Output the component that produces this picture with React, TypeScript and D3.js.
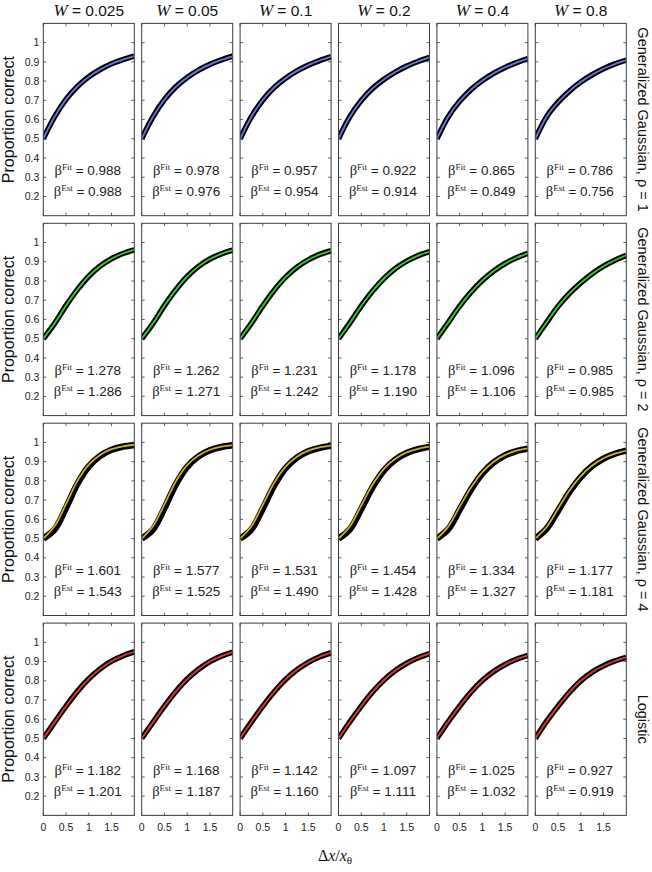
import React, { useEffect, useRef } from 'react';
import * as d3 from 'd3';

// column / row labels
const widths = ['0.025', '0.05', '0.1', '0.2', '0.4', '0.8'];
const models = [
  'Generalized Gaussian, ρ = 1',
  'Generalized Gaussian, ρ = 2',
  'Generalized Gaussian, ρ = 4',
  'Logistic'
];
const modelColors = ['#6878e0', '#33cc33', '#c8b02a', '#d83a3a'];

const xTicks = [0, 0.5, 1, 1.5];
const yTicks = [0.2, 0.3, 0.4, 0.5, 0.6, 0.7, 0.8, 0.9, 1];

const xSamples = [0, 0.25, 0.5, 0.75, 1, 1.25, 1.5, 1.75, 2];

const betaFit = [
  [0.988, 0.978, 0.957, 0.922, 0.865, 0.786],
  [1.278, 1.262, 1.231, 1.178, 1.096, 0.985],
  [1.601, 1.577, 1.531, 1.454, 1.334, 1.177],
  [1.182, 1.168, 1.142, 1.097, 1.025, 0.927]
];
const betaEst = [
  [0.988, 0.976, 0.954, 0.914, 0.849, 0.756],
  [1.286, 1.271, 1.242, 1.190, 1.106, 0.985],
  [1.543, 1.525, 1.490, 1.428, 1.327, 1.181],
  [1.201, 1.187, 1.160, 1.111, 1.032, 0.919]
];

// fitted curves (coloured), one per W
const fitGauss1 = [
  [0.5, 0.615, 0.705, 0.772, 0.822, 0.86, 0.89, 0.912, 0.93],
  [0.5, 0.615, 0.704, 0.77, 0.819, 0.857, 0.887, 0.91, 0.929],
  [0.5, 0.615, 0.702, 0.767, 0.815, 0.853, 0.883, 0.907, 0.927],
  [0.5, 0.615, 0.699, 0.762, 0.809, 0.847, 0.878, 0.902, 0.923],
  [0.5, 0.615, 0.695, 0.756, 0.803, 0.841, 0.871, 0.896, 0.917],
  [0.5, 0.615, 0.69, 0.748, 0.795, 0.833, 0.864, 0.889, 0.909]
];
const fitGauss2 = [
  [0.5, 0.58, 0.672, 0.755, 0.825, 0.878, 0.916, 0.943, 0.962],
  [0.5, 0.58, 0.672, 0.754, 0.823, 0.876, 0.914, 0.941, 0.96],
  [0.5, 0.581, 0.671, 0.752, 0.82, 0.872, 0.91, 0.938, 0.957],
  [0.5, 0.582, 0.67, 0.748, 0.813, 0.865, 0.903, 0.932, 0.952],
  [0.5, 0.584, 0.669, 0.742, 0.803, 0.852, 0.891, 0.921, 0.944],
  [0.5, 0.585, 0.668, 0.735, 0.79, 0.838, 0.877, 0.908, 0.934]
];
const fitGauss4 = [
  [0.5, 0.565, 0.68, 0.8, 0.885, 0.935, 0.965, 0.98, 0.988],
  [0.5, 0.565, 0.678, 0.797, 0.882, 0.932, 0.962, 0.978, 0.986],
  [0.5, 0.564, 0.676, 0.79, 0.874, 0.926, 0.957, 0.974, 0.983],
  [0.5, 0.563, 0.672, 0.781, 0.863, 0.915, 0.948, 0.967, 0.978],
  [0.5, 0.562, 0.665, 0.766, 0.846, 0.9, 0.935, 0.957, 0.969],
  [0.5, 0.56, 0.655, 0.75, 0.825, 0.88, 0.918, 0.942, 0.958]
];
const fitLogistic = [
  [0.5, 0.585, 0.668, 0.745, 0.81, 0.862, 0.902, 0.93, 0.951],
  [0.5, 0.585, 0.668, 0.744, 0.809, 0.86, 0.9, 0.928, 0.949],
  [0.5, 0.586, 0.668, 0.743, 0.807, 0.857, 0.896, 0.925, 0.946],
  [0.5, 0.587, 0.668, 0.742, 0.804, 0.853, 0.891, 0.92, 0.941],
  [0.5, 0.588, 0.668, 0.741, 0.802, 0.849, 0.885, 0.912, 0.932],
  [0.5, 0.59, 0.668, 0.74, 0.8, 0.845, 0.878, 0.903, 0.922]
];
// black band for rho = 4 sits a little under the fit at small x
const estGauss4 = [
  [0.5, 0.548, 0.66, 0.785, 0.876, 0.93, 0.962, 0.978, 0.987],
  [0.5, 0.548, 0.658, 0.782, 0.873, 0.927, 0.959, 0.976, 0.985],
  [0.5, 0.548, 0.657, 0.776, 0.866, 0.921, 0.954, 0.972, 0.982],
  [0.5, 0.548, 0.654, 0.768, 0.855, 0.911, 0.945, 0.965, 0.977],
  [0.5, 0.549, 0.65, 0.755, 0.839, 0.896, 0.933, 0.955, 0.968],
  [0.5, 0.552, 0.645, 0.742, 0.82, 0.877, 0.916, 0.941, 0.957]
];

const fitCurves = [fitGauss1, fitGauss2, fitGauss4, fitLogistic];
const estCurves = [fitGauss1, fitGauss2, estGauss4, fitLogistic];

const sans = '"Liberation Sans", Arial, Helvetica, sans-serif';
const serif = '"Liberation Serif", "Times New Roman", serif';

const App = () => {
  const svgRef = useRef<SVGSVGElement>(null);

  useEffect(() => {
    const w = 652;
    const h = 872;
    const left0 = 43.3;
    const colStep = 98.4;
    const panelW = 91;
    const top0 = 23.4;
    const rowStep = 199.9;
    const panelH = 192.3;
    const tickLen = 3;
    const axisColor = '#3c3c3c';

    const svg = d3.select(svgRef.current)
      .attr('width', w)
      .attr('height', h);
    svg.selectAll('*').remove();

    const x = d3.scaleLinear().domain([0, 2]).range([0, panelW]);
    const y = d3.scaleLinear().domain([0.1, 1.1]).range([panelH, 0]);

    const line = d3.line<number>()
      .x((d, i) => x(xSamples[i]))
      .y((d) => y(d))
      .curve(d3.curveCatmullRom.alpha(0.5));

    svg.append('defs')
      .append('clipPath')
      .attr('id', 'panel-clip')
      .append('rect')
      .attr('width', panelW)
      .attr('height', panelH);

    models.forEach((model, r) => {
      const top = top0 + r * rowStep;

      widths.forEach((wv, c) => {
        const left = left0 + c * colStep;
        const g = svg.append('g').attr('transform', `translate(${left},${top})`);

        g.append('rect')
          .attr('width', panelW)
          .attr('height', panelH)
          .attr('fill', '#fff');

        //curves: thick black band with the coloured fit on top
        const curves = g.append('g').attr('clip-path', 'url(#panel-clip)');
        curves.append('path')
          .attr('d', line(estCurves[r][c]))
          .attr('fill', 'none')
          .attr('stroke', '#000')
          .attr('stroke-width', r === 2 ? 6.5 : 5.6);
        curves.append('path')
          .attr('d', line(fitCurves[r][c]))
          .attr('fill', 'none')
          .attr('stroke', modelColors[r])
          .attr('stroke-width', 1.8);

        //ticks on all four sides, pointing in
        yTicks.forEach((t) => {
          g.append('line').attr('x1', 0).attr('x2', tickLen)
            .attr('y1', y(t)).attr('y2', y(t))
            .attr('stroke', axisColor).attr('stroke-width', 0.8);
          g.append('line').attr('x1', panelW).attr('x2', panelW - tickLen)
            .attr('y1', y(t)).attr('y2', y(t))
            .attr('stroke', axisColor).attr('stroke-width', 0.8);
        });
        xTicks.forEach((t) => {
          g.append('line').attr('x1', x(t)).attr('x2', x(t))
            .attr('y1', panelH).attr('y2', panelH - tickLen)
            .attr('stroke', axisColor).attr('stroke-width', 0.8);
          g.append('line').attr('x1', x(t)).attr('x2', x(t))
            .attr('y1', 0).attr('y2', tickLen)
            .attr('stroke', axisColor).attr('stroke-width', 0.8);
        });

        g.append('rect')
          .attr('width', panelW)
          .attr('height', panelH)
          .attr('fill', 'none')
          .attr('stroke', axisColor)
          .attr('stroke-width', 1);

        //beta annotations
        [['Fit', betaFit[r][c], 152], ['Est', betaEst[r][c], 173]].forEach(([lab, val, ty]) => {
          const t = g.append('text')
            .attr('x', panelW / 2 - 1)
            .attr('y', ty as number)
            .attr('text-anchor', 'middle')
            .attr('fill', '#222');
          t.append('tspan').attr('font-family', serif).attr('font-size', 14.5).text('β');
          t.append('tspan').attr('font-family', serif).attr('font-size', 9)
            .attr('dy', -5.5).text(lab as string);
          t.append('tspan').attr('font-family', sans).attr('font-size', 13.5)
            .attr('dy', 5.5).text(` = ${(val as number).toFixed(3)}`);
        });

        if (c === 0) {
          yTicks.forEach((t) => {
            g.append('text')
              .attr('x', -4)
              .attr('y', y(t))
              .attr('dy', '0.35em')
              .attr('text-anchor', 'end')
              .attr('font-family', sans)
              .attr('font-size', 10.5)
              .attr('fill', '#222')
              .text(d3.format('~g')(t));
          });
        }
        if (r === models.length - 1) {
          xTicks.forEach((t) => {
            g.append('text')
              .attr('x', x(t))
              .attr('y', panelH + 16)
              .attr('text-anchor', 'middle')
              .attr('font-family', sans)
              .attr('font-size', 10.5)
              .attr('fill', '#222')
              .text(d3.format('~g')(t));
          });
        }
        if (r === 0) {
          const title = svg.append('text')
            .attr('x', left + panelW / 2)
            .attr('y', 16)
            .attr('text-anchor', 'middle')
            .attr('fill', '#111');
          title.append('tspan').attr('font-family', serif).attr('font-style', 'italic')
            .attr('font-size', 17).text('W');
          title.append('tspan').attr('font-family', sans).attr('font-size', 15.5)
            .text(` = ${wv}`);
        }
      });

      //row label on the left and model name on the right
      svg.append('text')
        .attr('transform', `translate(14,${top + panelH / 2}) rotate(-90)`)
        .attr('text-anchor', 'middle')
        .attr('font-family', sans)
        .attr('font-size', 16)
        .attr('fill', '#111')
        .text('Proportion correct');

      svg.append('text')
        .attr('transform', `translate(637.5,${top + panelH / 2}) rotate(90)`)
        .attr('text-anchor', 'middle')
        .attr('font-family', sans)
        .attr('font-size', 14.5)
        .attr('fill', '#111')
        .text(model);
    });

    const xl = svg.append('text')
      .attr('x', 335)
      .attr('y', 861)
      .attr('text-anchor', 'middle')
      .attr('font-family', serif)
      .attr('font-size', 16)
      .attr('fill', '#111');
    xl.append('tspan').text('Δ');
    xl.append('tspan').attr('font-style', 'italic').text('x');
    xl.append('tspan').text('/');
    xl.append('tspan').attr('font-style', 'italic').text('x');
    xl.append('tspan').attr('font-size', 11).attr('dy', 3).text('θ');
  }, []);

  return (
    <svg ref={svgRef} style={{ position: 'absolute', left: 0, top: 0, background: '#fff' }}></svg>
  );
};

export default App;
